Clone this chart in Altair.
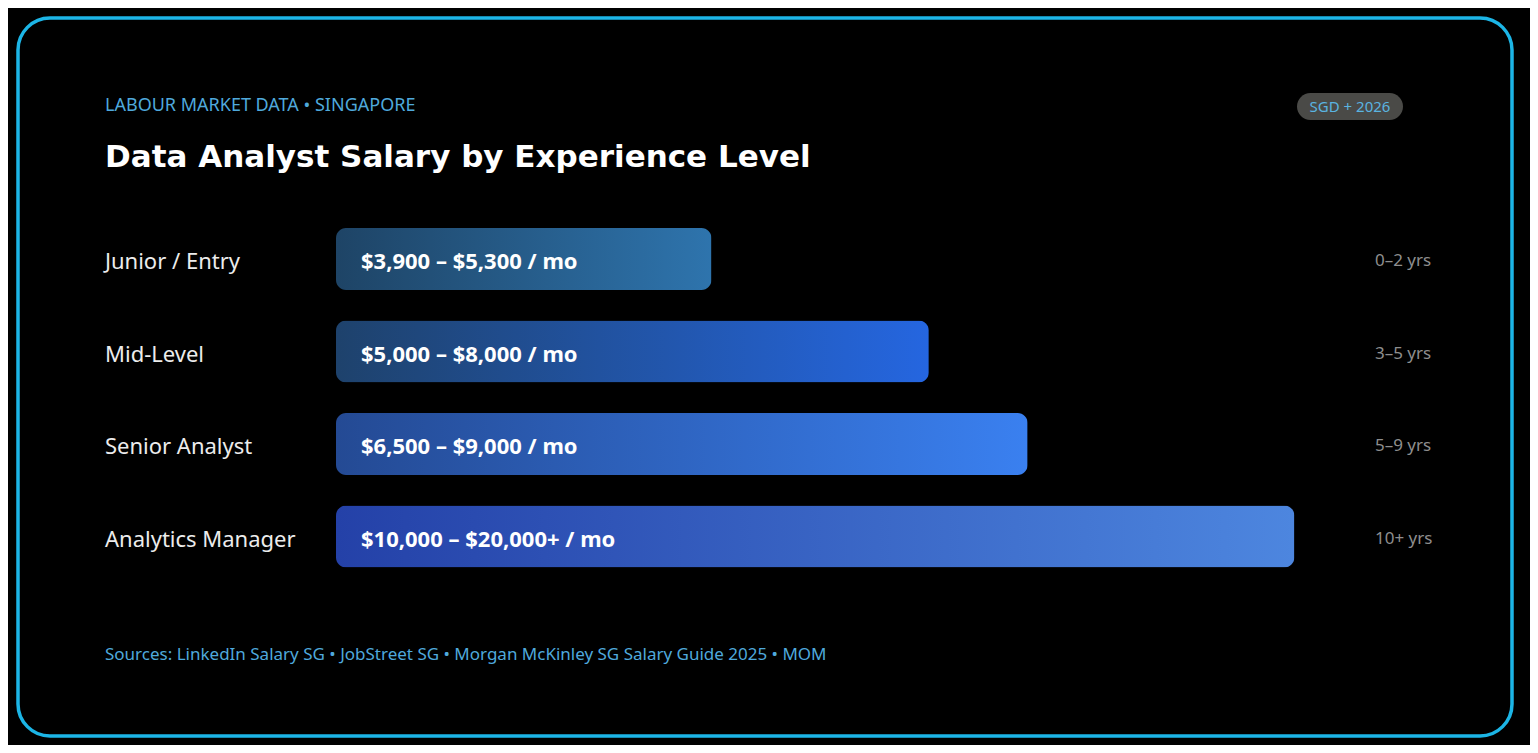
import altair as alt
import pandas as pd

# ---- data ----
levels = ["Junior / Entry", "Mid-Level", "Senior Analyst", "Analytics Manager"]
salary_ranges = ["$3,900 – $5,300 / mo", "$5,000 – $8,000 / mo",
                 "$6,500 – $9,000 / mo", "$10,000 – $20,000+ / mo"]
years = ["0–2 yrs", "3–5 yrs", "5–9 yrs", "10+ yrs"]
bar_pct = [38, 60, 70, 97]
grad_start = ["#1e4466", "#1e426c", "#244a94", "#2441a8"]
grad_end = ["#2e74ad", "#2566e0", "#3a80f0", "#4d86df"]

kicker = "LABOUR MARKET DATA • SINGAPORE"
title = "Data Analyst Salary by Experience Level"
badge = "SGD + 2026"
footer = "Sources: LinkedIn Salary SG • JobStreet SG • Morgan McKinley SG Salary Guide 2025 • MOM"

df = pd.DataFrame({
    "row": list(range(len(levels))),
    "level": levels,
    "range": salary_ranges,
    "years": years,
    "pct": bar_pct,
})

BODY = "Noto Sans"
xscale = alt.Scale(domain=[0, 100], range=[318, 1306], padding=0)
yscale = alt.Scale(domain=[0, 3], range=[241, 518.5], padding=0)

base = alt.Chart(df)

bars = []
for i in range(len(levels)):
    grad = alt.Gradient(
        gradient="linear",
        stops=[alt.GradientStop(color=grad_start[i], offset=0),
               alt.GradientStop(color=grad_end[i], offset=1)],
        x1=0, x2=1, y1=0, y2=0,
    )
    bars.append(
        base.transform_filter(alt.datum.row == i)
        .mark_bar(cornerRadius=10, size=62, color=grad, orient="horizontal")
        .encode(
            x=alt.X("pct:Q", scale=xscale, axis=None),
            y=alt.Y("row:Q", scale=yscale, axis=None),
        )
    )

cat_labels = base.mark_text(
    align="left", baseline="middle", font=BODY, fontSize=22, color="#ececec", dy=3
).encode(x=alt.value(87), y=alt.Y("row:Q", scale=yscale, axis=None), text="level:N")

bar_labels = base.mark_text(
    align="left", baseline="middle", font=BODY, fontSize=22, fontWeight="bold",
    color="#ffffff", dy=3
).encode(x=alt.value(343), y=alt.Y("row:Q", scale=yscale, axis=None), text="range:N")

year_labels = base.mark_text(
    align="left", baseline="middle", font=BODY, fontSize=17, color="#8e8e8e", dy=2
).encode(x=alt.value(1357), y=alt.Y("row:Q", scale=yscale, axis=None), text="years:N")

one = alt.Chart(pd.DataFrame({"kicker": [kicker], "title": [title],
                              "badge": [badge], "footer": [footer]}))

kicker_t = one.mark_text(align="left", baseline="middle", font=BODY, fontSize=18,
                         color="#4fa9dc").encode(
    x=alt.value(87), y=alt.value(88), text="kicker:N")
title_t = one.mark_text(align="left", baseline="middle", font="DejaVu Sans", fontSize=31,
                        fontWeight="bold", color="#ffffff").encode(
    x=alt.value(87), y=alt.value(140), text="title:N")
badge_r = one.mark_rect(cornerRadius=13.5, color="#4a4a47").encode(
    x=alt.value(1279), x2=alt.value(1385), y=alt.value(75), y2=alt.value(102))
badge_t = one.mark_text(align="center", baseline="middle", font=BODY, fontSize=15,
                        color="#5ab4e0").encode(
    x=alt.value(1332), y=alt.value(88.5), text="badge:N")
footer_t = one.mark_text(align="left", baseline="middle", font=BODY, fontSize=17,
                         color="#4fa9dc").encode(
    x=alt.value(87), y=alt.value(637), text="footer:N")

chart = alt.layer(
    *bars, cat_labels, bar_labels, year_labels,
    kicker_t, title_t, badge_r, badge_t, footer_t
).properties(
    width=1494, height=718,
    padding={"left": 10, "top": 10, "right": 18, "bottom": 9},
    autosize="none",
    background="#000000",
).configure_view(
    stroke="#1cb5e6", strokeWidth=3.5, cornerRadius=32, fill="#000000"
)

chart.save("out.html", embed_options={"renderer": "svg", "actions": False})
